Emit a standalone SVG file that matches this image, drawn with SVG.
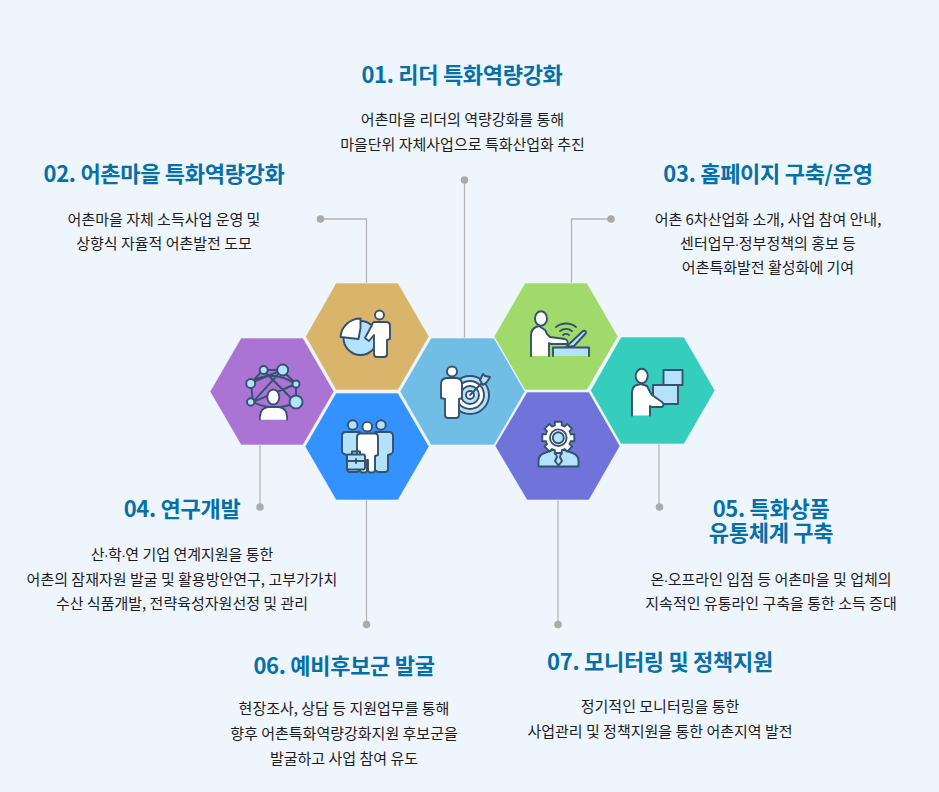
<svg xmlns="http://www.w3.org/2000/svg" width="939" height="792" viewBox="0 0 939 792">
<style>
text{font-family:"Noto Sans CJK KR","Noto Sans",sans-serif;text-anchor:middle}
.t{font-size:22px;font-weight:700;fill:#0570a8;letter-spacing:-.3px}
.b{font-size:15px;fill:#1c1c1c;font-weight:400;letter-spacing:0}
.m{font-family:"Liberation Sans",sans-serif;letter-spacing:-.75px}
.hex{stroke:#f0f6fc;stroke-width:1;stroke-opacity:.6}
.c{fill:none;stroke:#b4b6b8;stroke-width:1.3}
.d{fill:#a9abad}
.i{stroke:#34516f;stroke-width:1.9;stroke-linejoin:round;stroke-linecap:round}
.w{fill:#fff}
.l{fill:#b5e2fb}
.n{fill:none}
.nw{fill:#fff;stroke:none}
</style>
<defs>
<rect id="tooth" class="i w" x="-3.5" y="-16" width="7" height="6"/>
</defs>
<rect width="939" height="792" fill="#eef5fc"/>
<g id="connectors">
<path class="c" d="M464.500 180V338"/><circle class="d" cx="464.500" cy="180" r="3.800"/>
<path class="c" d="M320 219H366.500V283"/><circle class="d" cx="320.500" cy="219" r="3.800"/>
<path class="c" d="M611 219H571.500V283"/><circle class="d" cx="611" cy="219" r="3.800"/>
<path class="c" d="M260 445V507"/><circle class="d" cx="260" cy="507" r="3.800"/>
<path class="c" d="M659 444V507"/><circle class="d" cx="659.500" cy="507" r="3.800"/>
<path class="c" d="M366.500 500V624"/><circle class="d" cx="366.500" cy="624.500" r="3.800"/>
<path class="c" d="M558 500V624"/><circle class="d" cx="558" cy="624.500" r="3.800"/>
</g>
<g id="node-01">
<text class="t" x="462" y="83">01. 리더 특화역량강화</text>
<text class="b" x="462.500" y="125">어촌마을 리더의 역량강화를 통해</text>
<text class="b" x="462.500" y="150">마을단위 자체사업으로 특화산업화 추진</text>
<path class="hex" fill="#70bde6" d="M431 338H494L525 391.500L494 445H431L400 391.500Z"/>
<circle class="i l" cx="470" cy="395" r="19"/><circle class="i w" cx="470" cy="395" r="14"/><circle class="i l" cx="470" cy="395" r="9"/><circle class="i w" cx="470" cy="395" r="4"/>
<path class="i" d="M470 395L484 381"/><path class="i l" d="M480 380l3-6 2 2 5 1-3 5-4 3z"/>
<path class="i w" d="M446 378H457q5 1 5 6V398l-3 1V415q0 3-3 3H448q-3 0-3-3V399l-4-1V384q0-5 5-6Z"/>
<circle class="i w" cx="452" cy="371.500" r="5"/>
</g>
<g id="node-02">
<text class="t" x="164" y="182">02. 어촌마을 특화역량강화</text>
<text class="b" x="164" y="225">어촌마을 자체 소득사업 운영 및</text>
<text class="b" x="164" y="249">상향식 자율적 어촌발전 도모</text>
<path class="hex" fill="#d9b56b" d="M336 283H398L429 336.500L398 390H336L305.500 336.500Z"/>
<circle class="i l" cx="360.500" cy="338" r="17"/>
<path class="i w" d="M340.500 337A20 20 0 0 1 360.500 318.500V328L358.500 339Z"/>
<path class="i w" d="M374 322H386q4 0 4 4V339L387 340V354q0 3-3 3h-7q-3 0-3-3V335L369 341L365 338L372 325q1-3 2-3Z"/>
<circle class="i w" cx="379.500" cy="315" r="4.500"/>
</g>
<g id="node-03">
<text class="t" x="768" y="182">03. 홈페이지 구축/운영</text>
<text class="b" x="768" y="225">어촌 6차산업화 소개, 사업 참여 안내,</text>
<text class="b" x="768" y="249">센터업무<tspan class="m" dx="-.75">·</tspan>정부정책의 홍보 등</text>
<text class="b" x="768" y="273">어촌특화발전 활성화에 기여</text>
<path class="hex" fill="#a0da6a" d="M525 283H587L618 336.500L587 390H525L494 336.500Z"/>
<path class="i n" d="M556 327a16 16 0 0 1 20 0M560 331a10 10 0 0 1 12 0M563 335a5 5 0 0 1 6 0"/>
<path class="i l" d="M553 356V347.500H589V356"/>
<path class="i l" d="M566 347L583 331Q586 330 586 333L574 346Z"/>
<path class="i w" d="M531 356V336q0-7 5-9l3-1 6 4 2 4 3 3 15 2q4 2 2 5l-16 0-2-1V356"/>
<ellipse class="i w" cx="541" cy="318.500" rx="6" ry="7.300"/>
</g>
<g id="node-04">
<text class="t" x="182" y="517">04. 연구개발</text>
<text class="b" x="182" y="560">산<tspan class="m" dx="-.75">·</tspan>학<tspan class="m" dx="-.75">·</tspan>연 기업 연계지원을 통한</text>
<text class="b" x="182" y="585">어촌의 잠재자원 발굴 및 활용방안연구, 고부가가치</text>
<text class="b" x="182" y="609">수산 식품개발, 전략육성자원선정 및 관리</text>
<path class="hex" fill="#ab73d3" d="M241 338H303L334 391.500L303 445H241L210 391.500Z"/>
<path class="i n" d="M251 383L263 370L282 370L296 384L296 403M251 383L253 402M263 370L296 403M282 370L251 383M282 370L253 402M253 402Q272 412 296 403M296 384L253 402M296 384Q270 368 251 383"/>
<circle class="i l" cx="250.700" cy="383.500" r="4.500"/><circle class="i l" cx="263.700" cy="370" r="4"/><circle class="i l" cx="282.700" cy="370" r="5.500"/><circle class="i l" cx="296" cy="384" r="3.500"/><circle class="i l" cx="296" cy="402" r="6.500"/><circle class="i l" cx="250.700" cy="402" r="3.700"/>
<path class="i w" d="M260 419.500v-3q0-8 8-9.500h11q8 1.500 8 9.500v3"/>
<path class="nw" d="M260.700 419.500h25.500v-3h-25.500z"/>
<ellipse class="i w" cx="273.300" cy="397" rx="6" ry="7.500"/>
</g>
<g id="node-05">
<text class="t" x="771" y="517">05. 특화상품<tspan x="771" dy="24">유통체계 구축</tspan></text>
<text class="b" x="771" y="585">온<tspan class="m" dx="-.75">·</tspan>오프라인 입점 등 어촌마을 및 업체의</text>
<text class="b" x="771" y="609">지속적인 유통라인 구축을 통한 소득 증대</text>
<path class="hex" fill="#35cdbc" d="M621 337H684L715 390.500L684 444H621L590.500 390.500Z"/>
<rect class="i l" x="663.500" y="370" width="19" height="15"/>
<rect class="i l" x="653" y="385" width="25" height="19"/>
<path class="i w" d="M632 415.500V393q0-7 5-8l4-1 6 2 3 6 2 3 10 7q3 3 0 5l-10 0-2-1V415.500"/>
<ellipse class="i w" cx="641.700" cy="376" rx="6" ry="7.300"/>
</g>
<g id="node-06">
<text class="t" x="344" y="674">06. 예비후보군 발굴</text>
<text class="b" x="344" y="714">현장조사, 상담 등 지원업무를 통해</text>
<text class="b" x="344" y="739">향후 어촌특화역량강화지원 후보군을</text>
<text class="b" x="344" y="764">발굴하고 사업 참여 유도</text>
<path class="hex" fill="#3392fe" d="M336 393H398L429 446.500L398 500H336L305 446.500Z"/>
<path class="i l" d="M346 432H360V470q-1 2-4 2h-6q-3 0-3-3V455l-3-1q-2-1-2-3V436q0-4 4-4Z"/>
<path class="i l" d="M389 432H375V470q1 2 4 2h6q3 0 3-3V455l3-1q2-1 2-3V436q0-4-4-4Z"/>
<circle class="i l" cx="352.700" cy="425" r="4.800"/><circle class="i l" cx="381" cy="425" r="4.800"/>
<path class="i w" d="M361 433.500H375q3 0 3 4V455l-3 1V470q0 2.500-3 2.500h-1q-3 0-3-2.500V460h-1V470q0 2.500-3 2.500h-1q-3 0-3-2.500V456l-3-1V437q0-3 3-3.500Z"/>
<circle class="i w" cx="367.300" cy="426.700" r="4.800"/>
<path class="i n" d="M352 454V451.500H360V454"/>
<rect class="i l" x="347" y="454.500" width="18" height="15" rx="1.500"/><path class="i" d="M347 461H365M356 459V463"/>
</g>
<g id="node-07">
<text class="t" x="660" y="670">07. 모니터링 및 정책지원</text>
<text class="b" x="660" y="712">정기적인 모니터링을 통한</text>
<text class="b" x="660" y="737">사업관리 및 정책지원을 통한 어촌지역 발전</text>
<path class="hex" fill="#6f73da" d="M527 392H589L620 446L589 500H527L495 446Z"/>
<path class="i l" d="M538.500 466.500V461q0-6 6-8l8-3h12l8 3q6 2 6 8v5.500Z"/>
<g transform="translate(558.300 437.700)">
<circle class="i w" r="12.500"/>
<use href="#tooth"/><use href="#tooth" transform="rotate(45)"/><use href="#tooth" transform="rotate(90)"/><use href="#tooth" transform="rotate(135)"/><use href="#tooth" transform="rotate(180)"/><use href="#tooth" transform="rotate(225)"/><use href="#tooth" transform="rotate(270)"/><use href="#tooth" transform="rotate(315)"/>
<circle class="nw" r="12"/>
<circle class="i n" r="8.300"/><circle class="i l" r="5.500"/>
</g>
<path class="i l" d="M555.500 453h5.500l-1 4 2 4-3.500 4.500-3.500-4.500 2-4z"/>
</g>
</svg>
